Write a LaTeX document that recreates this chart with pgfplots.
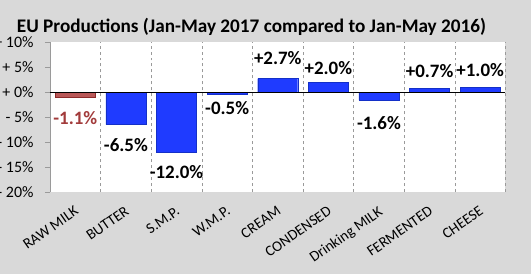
\documentclass[border=0pt]{standalone}
\usepackage{pgfplots}
\pgfplotsset{compat=1.18}
\usepackage{fontspec}
\setmainfont{Carlito}
\definecolor{bgray}{HTML}{D9D9D9}
\definecolor{barblue}{HTML}{1F3BFF}
\definecolor{baredge}{HTML}{1430C8}
\definecolor{rawfill}{HTML}{B95858}
\definecolor{rawedge}{HTML}{8C2A2A}
\definecolor{rawlabel}{HTML}{A23B3B}
\definecolor{gridgray}{HTML}{9A9A9A}
\begin{document}
\begin{tikzpicture}
\fill[bgray] (0,0) rectangle (531bp,274bp);
\node[anchor=base, font=\fontsize{19.3}{19.3}\bfseries\selectfont] at (251.5bp,241bp) {EU Productions (Jan-May 2017 compared to Jan-May 2016)};
\begin{axis}[
  at={(50bp,82bp)}, anchor=south west,
  scale only axis, width=455.5bp, height=150bp,
  xmin=-0.5, xmax=8.5, ymin=-20, ymax=10,
  axis background/.style={fill=white},
  axis x line*=bottom, axis y line*=left,
  axis line style={-},
  x axis line style={draw=none},
  y axis line style={draw=gridgray},
  xtick={0,...,8},
  xticklabels={RAW MILK,BUTTER,S.M.P.,W.M.P.,CREAM,CONDENSED,Drinking MILK,FERMENTED,CHEESE},
  x tick style={draw=none},
  minor xtick={0.5,1.5,...,8.5},
  minor tick length=0pt,
  xminorgrids, minor x grid style={gridgray, dashed},
  xticklabel style={rotate=35, anchor=north east, font=\fontsize{15}{15}\selectfont, inner sep=1bp, xshift=-5bp, yshift=-5bp},
  ytick={-20,-15,...,10},
  yticklabels={- 20\%,- 15\%,- 10\%,- 5\%,+ 0\%,+ 5\%,+ 10\%},
  yticklabel style={font=\fontsize{16}{16}\selectfont, xshift=-8bp},
  tick align=outside, major tick length=5bp,
  y tick style={gridgray},
  ybar, bar width=40bp, bar shift=0pt,
]
\addplot[ybar, fill=rawfill, draw=rawedge,
  nodes near coords, point meta=explicit symbolic,
  visualization depends on={value \thisrow{off} \as \labeloff},
  every node near coord/.append style={font=\fontsize{19}{19}\bfseries\selectfont, anchor=center, inner sep=0pt, yshift=\labeloff bp, text=rawlabel}] table[meta=lab] {
x y lab off
0 -1.1 -1.1\% -20.5
};
\addplot[ybar, fill=barblue, draw=baredge,
  nodes near coords, point meta=explicit symbolic,
  visualization depends on={value \thisrow{off} \as \labeloff},
  every node near coord/.append style={font=\fontsize{19}{19}\bfseries\selectfont, anchor=center, inner sep=0pt, yshift=\labeloff bp, text=black}] table[meta=lab] {
x y lab off
1 -6.5 -6.5\% -20.5
2 -12.0 -12.0\% -20
3 -0.5 -0.5\% -13.5
4 2.7 +2.7\% 20.5
5 2.0 +2.0\% 14
6 -1.6 -1.6\% -23
7 0.7 +0.7\% 17.5
8 1.0 +1.0\% 17
};
\addplot[sharp plot, black, thin, forget plot] coordinates {(-0.5,0) (8.5,0)};
\end{axis}
\pgfresetboundingbox
\useasboundingbox (0,0) rectangle (531bp,274bp);
\end{tikzpicture}
\end{document}
